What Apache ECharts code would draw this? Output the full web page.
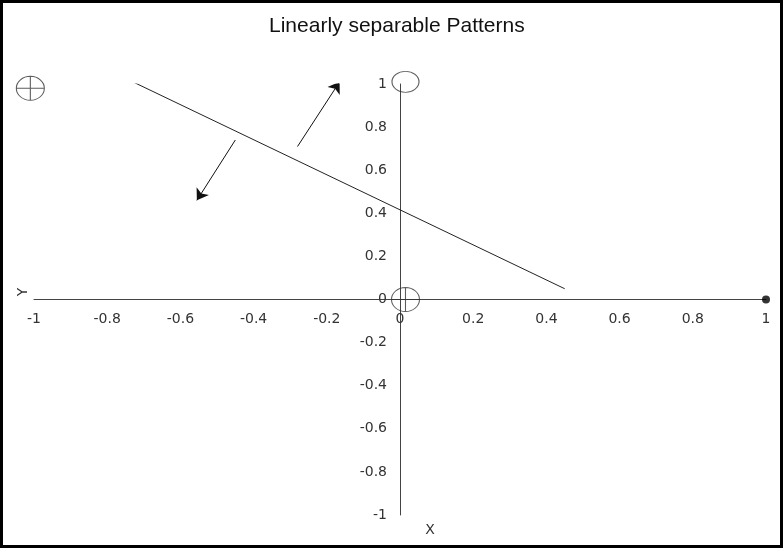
<!DOCTYPE html>
<html>
<head>
<meta charset="utf-8">
<script src="https://cdn.jsdelivr.net/npm/echarts@6/dist/echarts.min.js"></script>
<style>html,body{margin:0;padding:0;background:#fff}#c{width:783px;height:548px}</style>
</head>
<body>
<div id="c"></div>
<script>
// Data
const titleText = 'Linearly separable Patterns';
const xName = 'X';
const yName = 'Y';
const crossedPoints = [[-1.01, 0.98], [0.015, 0]];
const openPoints = [[0.015, 1.01]];
const filledPoints = [[1, 0]];
const separatorLine = [[-0.73, 1.01], [0.45, 0.05]];
const arrowUp = [[-0.28, 0.71], [-0.165, 1.01]];
const arrowDown = [[-0.45, 0.74], [-0.555, 0.46]];

const ellipseCross = 'path://M0,12A14,12,0,1,1,28,12A14,12,0,1,1,0,12ZM14,0L14,24M0,12L28,12';
const ellipse = 'path://M0,12A14,12,0,1,1,28,12A14,12,0,1,1,0,12Z';

const labelFont = { fontFamily: 'DejaVu Sans', fontSize: 14, color: '#333' };

// plot area geometry
const L = 34, R = 17, T = 84, B = 33;
const H = 548;
const zeroY = T + (H - T - B) / 2;   // pixel row of y = 0
const zeroX = L + (783 - L - R) / 2; // pixel column of x = 0

const baseGrid = { containLabel: false, outerBoundsMode: 'none' };
const hidden = { axisLine: { show: false }, axisTick: { show: false }, splitLine: { show: false }, axisLabel: { show: false } };

const chart = echarts.init(document.getElementById('c'), null, { renderer: 'canvas' });
chart.setOption({
  animation: false,
  backgroundColor: '#fff',
  title: {
    text: titleText, left: 264, top: 11,
    textStyle: { fontFamily: 'Liberation Sans', fontSize: 21, fontWeight: 'normal', color: '#111' }
  },
  grid: [
    Object.assign({ left: L, right: R, top: T, bottom: B }, baseGrid),
    // grid whose bottom edge is the y = 0 row: carries the x tick labels
    Object.assign({ left: L, right: R, top: T, bottom: H - zeroY }, baseGrid),
    // grid whose left edge is the x = 0 column: carries the y tick labels
    Object.assign({ left: zeroX, right: R, top: T, bottom: B }, baseGrid)
  ],
  xAxis: [
    {
      gridIndex: 0, type: 'value', min: -1, max: 1, interval: 0.2,
      axisLine: { onZero: true, lineStyle: { color: '#444', width: 1 } },
      axisTick: { show: false }, splitLine: { show: false }, axisLabel: { show: false }
    },
    Object.assign({ gridIndex: 1, type: 'value', min: -1, max: 1, interval: 0.2, position: 'bottom' }, hidden,
      { axisLabel: Object.assign({ show: true, margin: 13 }, labelFont) }),
    Object.assign({ gridIndex: 2, type: 'value', min: 0, max: 1 }, hidden)
  ],
  yAxis: [
    {
      gridIndex: 0, type: 'value', min: -1, max: 1, interval: 0.2,
      axisLine: { onZero: true, lineStyle: { color: '#444', width: 1 } },
      axisTick: { show: false }, splitLine: { show: false }, axisLabel: { show: false }
    },
    Object.assign({ gridIndex: 1, type: 'value', min: 0, max: 1 }, hidden),
    Object.assign({ gridIndex: 2, type: 'value', min: -1, max: 1, interval: 0.2, position: 'left' }, hidden,
      { axisLabel: Object.assign({ show: true, margin: 13 }, labelFont) })
  ],
  series: [
    {
      type: 'line', data: separatorLine, symbol: 'none',
      lineStyle: { color: '#222', width: 1 }, z: 3
    },
    {
      type: 'lines', coordinateSystem: 'cartesian2d',
      data: [{ coords: arrowUp }, { coords: arrowDown }],
      symbol: ['none', 'arrow'], symbolSize: 11,
      lineStyle: { color: '#111', width: 1, opacity: 1 }, z: 3
    },
    {
      type: 'scatter', data: crossedPoints, symbol: ellipseCross, symbolSize: [28, 24], clip: false,
      itemStyle: { color: 'rgba(0,0,0,0)', borderColor: '#333', borderWidth: 1 }, z: 4
    },
    {
      type: 'scatter', data: openPoints, symbol: ellipse, symbolSize: [27, 21], clip: false,
      itemStyle: { color: 'rgba(0,0,0,0)', borderColor: '#333', borderWidth: 1 }, z: 4
    },
    {
      type: 'scatter', data: filledPoints, symbol: 'circle', symbolSize: 8, clip: false,
      itemStyle: { color: '#000' }, z: 4
    }
  ],
  graphic: [
    {
      type: 'rect', shape: { x: 1.5, y: 1.5, width: 780, height: 545 },
      style: { fill: 'none', stroke: '#000', lineWidth: 3 }, z: 100
    },
    {
      type: 'text', x: 23, y: 292, rotation: Math.PI / 2,
      style: { text: yName, font: '14px "DejaVu Sans"', fill: '#333', align: 'center', verticalAlign: 'middle' }
    },
    {
      type: 'text', x: 430, y: 530,
      style: { text: xName, font: '14px "DejaVu Sans"', fill: '#333', align: 'center', verticalAlign: 'middle' }
    }
  ]
});
</script>
</body>
</html>
